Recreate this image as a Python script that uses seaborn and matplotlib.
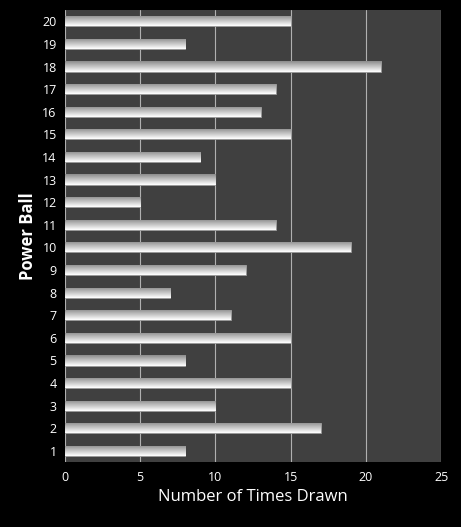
import numpy as np
import pandas as pd
import matplotlib
matplotlib.use("Agg")
import matplotlib.pyplot as plt
import seaborn as sns

balls = list(range(1, 21))
times_drawn = [8, 17, 10, 15, 8, 15, 11, 7, 12, 19, 14, 5, 10, 9, 15, 13, 14, 21, 8, 15]

df = pd.DataFrame({"ball": [str(b) for b in balls], "count": times_drawn})
order = [str(b) for b in reversed(balls)]

sns.set_theme(style="dark")
plt.rcParams["font.family"] = ["Open Sans", "DejaVu Sans"]

fig = plt.figure(figsize=(4.61, 5.27), dpi=100, facecolor="black")
ax = fig.add_axes([0.141, 0.123, 0.816, 0.858])
ax.set_facecolor("#404040")

sns.barplot(data=df, x="count", y="ball", order=order, orient="h", ax=ax,
            color="#f2f2f2", width=0.45, edgecolor="#9a9a9a", linewidth=0.6,
            saturation=1, zorder=3)

# soft shading on the bars
for patch in ax.patches:
    x0, y0 = patch.get_x(), patch.get_y()
    w, h = patch.get_width(), patch.get_height()
    grad = np.linspace(0.55, 1.0, 32).reshape(-1, 1)
    grad = np.minimum(grad, grad[::-1] + 0.45)
    im = ax.imshow(grad, cmap="gray", vmin=0, vmax=1, aspect="auto",
                   extent=(x0, x0 + w, y0 + h, y0), zorder=4)
    im.set_clip_path(patch)

ax.set_xlim(0, 25)
ax.set_ylim(19.5, -0.5)
ax.set_xticks([0, 5, 10, 15, 20, 25])
ax.grid(axis="x", color="#b0b0b0", linewidth=0.8, zorder=0)
ax.grid(axis="y", visible=False)
for s in ax.spines.values():
    s.set_visible(False)

ax.tick_params(colors="white", labelsize=9, length=0, pad=6)
ax.set_xlabel("Number of Times Drawn", color="white", fontsize=12)
ax.set_ylabel("Power Ball", color="white", fontsize=12, fontweight="bold")

fig.savefig("out.png", dpi=100, facecolor="black")
